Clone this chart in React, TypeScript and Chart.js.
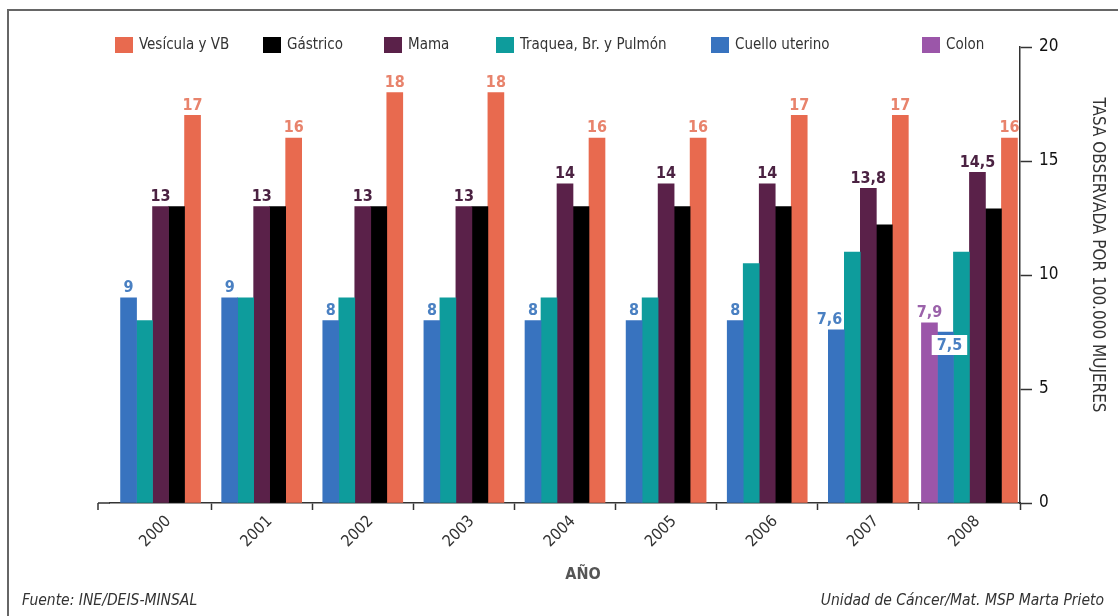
import { useEffect, useRef } from 'react';
import { Chart, registerables } from 'chart.js';

Chart.register(...registerables);

// Tasas observadas por 100.000 mujeres, por año
const years = ['2000', '2001', '2002', '2003', '2004', '2005', '2006', '2007', '2008'];
const vesicula = [17, 16, 18, 18, 16, 16, 17, 17, 16];
const gastrico = [13, 13, 13, 13, 13, 13, 13, 12.2, 12.9];
const mama = [13, 13, 13, 13, 14, 14, 14, 13.8, 14.5];
const traquea = [8, 9, 9, 9, 9, 9, 10.5, 11, 11];
const cuello = [9, 9, 8, 8, 8, 8, 8, 7.6, 7.5];
const colon = [null, null, null, null, null, null, null, null, 7.9];

const yTicks = [0, 5, 10, 15, 20];

const FONT = "'Liberation Sans Narrow', 'DejaVu Sans Condensed', 'Open Sans', sans-serif";

const fmt = (v: number) => String(v).replace('.', ',');

// Value labels, legend, axis titles and footer notes
const extras = {
  id: 'extras',
  afterDatasetsDraw(chart: any) {
    const ctx = chart.ctx;
    ctx.save();
    chart.data.datasets.forEach((ds: any, di: number) => {
      if (!ds.valueColor) return;
      const meta = chart.getDatasetMeta(di);
      meta.data.forEach((bar: any, i: number) => {
        const v = ds.data[i];
        if (v == null) return;
        const text = fmt(v);
        ctx.font = `bold 16px ${FONT}`;
        ctx.textAlign = 'center';
        const w = ctx.measureText(text).width;
        if (ds.boxed && ds.boxed.includes(i)) {
          const bw = w + 10;
          const cx = bar.x + 4;
          const top = bar.y + 3;
          ctx.fillStyle = '#ffffff';
          ctx.fillRect(cx - bw / 2, top, bw, 20);
          ctx.fillStyle = ds.valueColor;
          ctx.textBaseline = 'middle';
          ctx.fillText(text, cx, top + 11);
        } else {
          // wide labels of the leftmost bar stay clear of the neighbouring bar
          let x = bar.x;
          if (ds.keepLeft) x = Math.min(bar.x, bar.x + bar.width / 2 - w / 2 - 2);
          ctx.fillStyle = ds.valueColor;
          ctx.textBaseline = 'bottom';
          ctx.fillText(text, x, bar.y - 2);
        }
      });
    });
    ctx.restore();
  },
  afterDraw(chart: any, _args: any, opts: any) {
    const ctx = chart.ctx;
    const area = chart.chartArea;
    ctx.save();

    // stub of the category axis to the left of the first year
    ctx.strokeStyle = '#333333';
    ctx.lineWidth = 1.5;
    ctx.beginPath();
    ctx.moveTo(opts.axisStart, area.bottom);
    ctx.lineTo(area.left, area.bottom);
    ctx.moveTo(opts.axisStart, area.bottom);
    ctx.lineTo(opts.axisStart, area.bottom + 7);
    ctx.stroke();

    // legend
    ctx.font = `15px ${FONT}`;
    ctx.textBaseline = 'middle';
    ctx.textAlign = 'left';
    opts.legendOrder.forEach((di: number, k: number) => {
      const ds = chart.data.datasets[di];
      const x = opts.legendX[k];
      ctx.fillStyle = ds.backgroundColor;
      ctx.fillRect(x, opts.legendY - 8, 18, 16);
      ctx.fillStyle = '#333333';
      ctx.fillText(ds.label, x + 24, opts.legendY);
    });

    // y-axis title
    ctx.save();
    ctx.translate(opts.yTitleX, opts.yTitleY);
    ctx.rotate(Math.PI / 2);
    ctx.font = `17px ${FONT}`;
    ctx.textAlign = 'center';
    ctx.textBaseline = 'middle';
    ctx.fillStyle = '#333333';
    ctx.fillText('TASA OBSERVADA POR 100.000 MUJERES', 0, 0);
    ctx.restore();

    // x-axis title
    ctx.font = `bold 16px ${FONT}`;
    ctx.textAlign = 'center';
    ctx.textBaseline = 'middle';
    ctx.fillStyle = '#555555';
    ctx.fillText('AÑO', opts.xTitleX, opts.xTitleY);

    // footer notes
    ctx.font = `italic 15.5px ${FONT}`;
    ctx.fillStyle = '#333333';
    ctx.textAlign = 'left';
    ctx.fillText('Fuente: INE/DEIS-MINSAL', 22, 601);
    ctx.textAlign = 'right';
    ctx.fillText('Unidad de Cáncer/Mat. MSP Marta Prieto', 1104, 601);

    ctx.restore();
  },
};

export default function App() {
  const canvasRef = useRef<HTMLCanvasElement | null>(null);

  useEffect(() => {
    const canvas = canvasRef.current;
    if (!canvas) return;
    const chart = new Chart(canvas, {
      type: 'bar',
      data: {
        labels: years,
        datasets: [
          { label: 'Colon', data: colon, backgroundColor: '#9B56A9', valueColor: '#9B62AA' },
          { label: 'Cuello uterino', data: cuello, backgroundColor: '#3873BF', valueColor: '#4A80C2', boxed: [8], keepLeft: true },
          { label: 'Traquea, Br. y Pulmón', data: traquea, backgroundColor: '#0E9C9C' },
          { label: 'Mama', data: mama, backgroundColor: '#5A2149', valueColor: '#4B2242' },
          { label: 'Gástrico', data: gastrico, backgroundColor: '#000000' },
          { label: 'Vesícula y VB', data: vesicula, backgroundColor: '#E86A4F', valueColor: '#E8836C' },
        ] as any,
      },
      options: {
        animation: false,
        responsive: false,
        skipNull: true,
        barThickness: 16,
        layout: { padding: { left: 110, top: 47, right: 0, bottom: 0 } },
        plugins: {
          legend: { display: false },
          tooltip: { enabled: false },
          extras: {
            axisStart: 98,
            legendOrder: [5, 4, 3, 2, 1, 0],
            legendX: [115, 263, 384, 496, 711, 922],
            legendY: 45,
            yTitleX: 1097,
            yTitleY: 255,
            xTitleX: 583,
            xTitleY: 575,
          },
        } as any,
        scales: {
          x: {
            type: 'category',
            grid: {
              drawOnChartArea: false,
              offset: true,
              tickLength: 7,
              tickWidth: 1.5,
              tickColor: (c: any) => (c.index === 0 ? 'rgba(0,0,0,0)' : '#333333'),
            },
            border: { display: true, color: '#333333', width: 1.5 },
            ticks: {
              minRotation: 45,
              maxRotation: 45,
              padding: 2,
              labelOffset: 8,
              color: '#333333',
              font: { family: FONT, size: 16 },
            },
            afterFit: (s: any) => {
              s.height = 113;
            },
          },
          y: {
            position: 'right',
            min: 0,
            max: 20,
            afterBuildTicks: (s: any) => {
              s.ticks = yTicks.map((v) => ({ value: v }));
            },
            grid: {
              drawOnChartArea: false,
              tickLength: 12,
              tickWidth: 1.5,
              tickColor: '#333333',
            },
            border: { display: true, color: '#333333', width: 1.5 },
            ticks: {
              padding: 7,
              color: '#111111',
              font: { family: FONT, size: 17 },
            },
            afterFit: (s: any) => {
              s.width = 98;
            },
          },
        },
      } as any,
      plugins: [extras],
    });
    return () => chart.destroy();
  }, []);

  return (
    <div
      style={{
        position: 'fixed',
        left: 0,
        top: 0,
        width: 1118,
        height: 616,
        background: '#ffffff',
        overflow: 'hidden',
      }}
    >
      <div
        style={{
          position: 'absolute',
          left: 7,
          top: 9,
          right: 0,
          bottom: 0,
          borderTop: '2px solid #666666',
          borderLeft: '2px solid #666666',
        }}
      />
      <canvas ref={canvasRef} width={1118} height={616} style={{ position: 'absolute', left: 0, top: 0, width: 1118, height: 616 }} />
    </div>
  );
}
